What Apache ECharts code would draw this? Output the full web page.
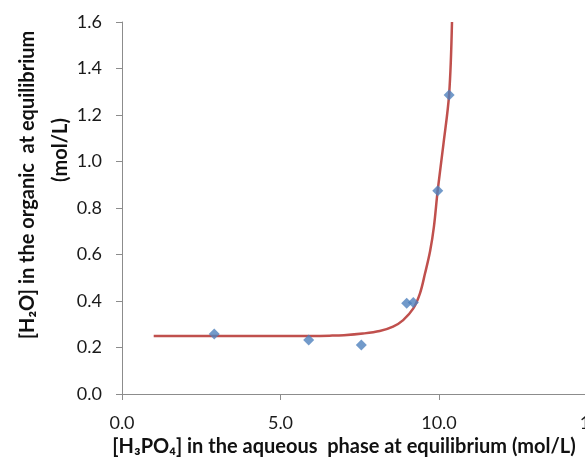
<!DOCTYPE html>
<html>
<head>
<meta charset="utf-8">
<script src="https://cdn.jsdelivr.net/npm/echarts@6/dist/echarts.min.js"></script>
<style>html,body{margin:0;padding:0;background:#fff;overflow:hidden}#c{width:620px;height:459px}</style>
</head>
<body>
<div id="c"></div>
<script>
var measuredX = [2.91, 5.89, 7.55, 8.98, 9.19, 9.96, 10.32];
var measuredY = [0.258, 0.232, 0.211, 0.390, 0.394, 0.874, 1.286];
var curveX = [1.0, 3.0, 5.0, 6.0, 6.55, 7.0, 7.6, 8.13, 8.55, 8.87, 9.19, 9.40, 9.56, 9.72, 9.84, 9.96, 10.14, 10.32, 10.41];
var curveY = [0.25, 0.25, 0.25, 0.25, 0.251, 0.253, 0.26, 0.271, 0.29, 0.318, 0.368, 0.433, 0.519, 0.615, 0.72, 0.877, 1.075, 1.29, 1.6];
var xTicks = {min: 0, max: 15, interval: 5};
var yTicks = {min: 0, max: 1.6, interval: 0.2};

var font = 'Lato, "Open Sans", sans-serif';
var axisGray = '#8c8c8c';
var chart = echarts.init(document.getElementById('c'), null, {renderer: 'canvas'});
chart.setOption({
  animation: false,
  grid: {left: 122, top: 22, right: 22.5, bottom: 65, containLabel: false},
  xAxis: {
    type: 'value', min: xTicks.min, max: xTicks.max, interval: xTicks.interval,
    splitLine: {show: false},
    axisLine: {show: true, onZero: false, lineStyle: {color: axisGray, width: 1}},
    axisTick: {show: true, length: 6, lineStyle: {color: axisGray}},
    axisLabel: {fontFamily: font, fontSize: 18, color: '#1a1a1a', margin: 20,
      formatter: function (v) { return v.toFixed(1); }}
  },
  yAxis: {
    type: 'value', min: yTicks.min, max: yTicks.max, interval: yTicks.interval,
    splitLine: {show: false},
    axisLine: {show: true, onZero: false, lineStyle: {color: axisGray, width: 1}},
    axisTick: {show: true, length: 6, lineStyle: {color: axisGray}},
    axisLabel: {fontFamily: font, fontSize: 18, color: '#1a1a1a', margin: 20,
      formatter: function (v) { return v.toFixed(1); }}
  },
  series: [
    {
      type: 'line', data: curveX.map(function (x, i) { return [x, curveY[i]]; }),
      smooth: 0.35, showSymbol: false, symbol: 'none',
      lineStyle: {color: '#C0504D', width: 2.5}, z: 2
    },
    {
      type: 'scatter', data: measuredX.map(function (x, i) { return [x, measuredY[i]]; }),
      symbol: 'diamond', symbolSize: [11, 11],
      itemStyle: {color: '#4F81BD'}, z: 3
    }
  ],
  graphic: [
    {type: 'text', x: 344, y: 447, style: {text: '[H\u2083PO\u2084] in the aqueous  phase at equilibrium (mol/L)',
      font: 'bold 20px ' + font, fill: '#111', align: 'center', verticalAlign: 'middle'}},
    {type: 'text', x: 28, y: 185, rotation: Math.PI / 2, style: {text: '[H\u2082O] in the organic  at equilibrium',
      font: 'bold 20px ' + font, fill: '#111', align: 'center', verticalAlign: 'middle'}},
    {type: 'text', x: 61, y: 150, rotation: Math.PI / 2, style: {text: '(mol/L)',
      font: 'bold 20px ' + font, fill: '#111', align: 'center', verticalAlign: 'middle'}}
  ]
});
</script>
</body>
</html>
